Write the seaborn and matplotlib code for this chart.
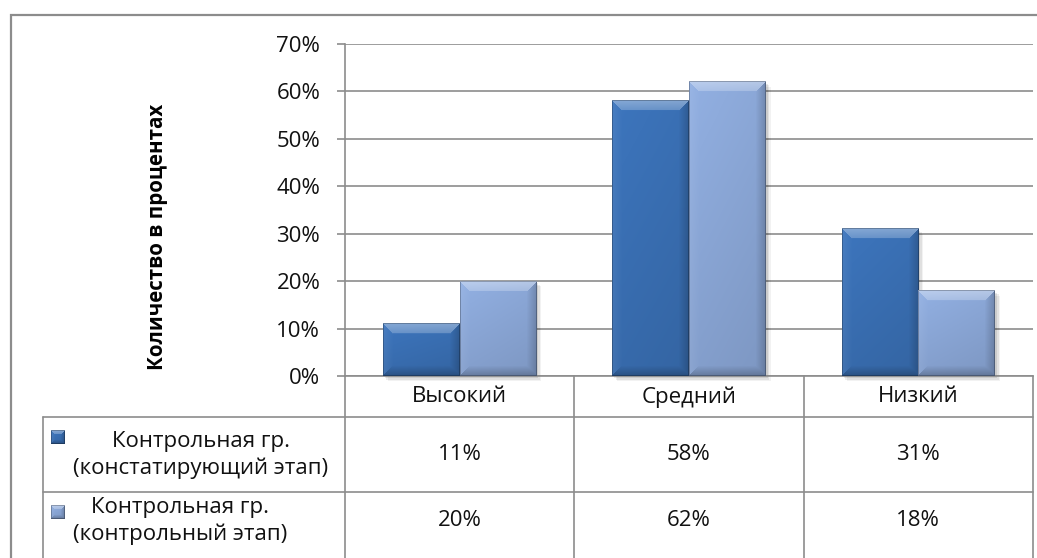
import numpy as np
import pandas as pd
import matplotlib
matplotlib.use("Agg")
import matplotlib.pyplot as plt
import seaborn as sns
from matplotlib.patches import Rectangle

# ---- data -------------------------------------------------------------
categories = ["Высокий", "Средний", "Низкий"]
series_names = ["Контрольная гр.\n(констатирующий этап)",
                "Контрольная гр.\n(контрольный этап)"]
stage_ascertaining = [11, 58, 31]   # %
stage_control = [20, 62, 18]        # %
y_ticks = [0, 10, 20, 30, 40, 50, 60, 70]
y_title = "Количество в процентах"

# ---- figure setup -----------------------------------------------------
W, H, DPI = 1037, 558, 100
sns.set_theme(style="white")
plt.rcParams["font.family"] = ["Open Sans", "DejaVu Sans"]
FS = 16
GRID = "#8c8c8c"
TXT = "#111111"
colors = ["#3b72b8", "#8eabdc"]

df = pd.DataFrame({
    "category": categories * 2,
    "series": [series_names[0]] * 3 + [series_names[1]] * 3,
    "value": stage_ascertaining + stage_control,
})

fig = plt.figure(figsize=(W / DPI, H / DPI), dpi=DPI)
fig.patch.set_facecolor("white")


def px_rect(l, t, r, b):
    return [l / W, 1 - b / H, (r - l) / W, (b - t) / H]


PL, PT, PR, PB = 345, 44, 1033, 376
ax = fig.add_axes(px_rect(PL, PT, PR, PB))
sns.barplot(data=df, x="category", y="value", hue="series",
            palette=colors, width=0.67, gap=0, saturation=1,
            legend=False, ax=ax, edgecolor="none", zorder=3)


def to_rgb(c):
    return np.array(matplotlib.colors.to_rgb(c))


def bevel(rgb, w, h, b=9):
    """Excel-like bevelled face for a bar of w x h pixels."""
    w, h = max(int(round(w)), 2), max(int(round(h)), 2)
    yy, xx = np.mgrid[0:h, 0:w].astype(float)
    t = yy / (h - 1)
    s = xx / (w - 1)
    img = rgb[None, None, :] * (1.03 - 0.10 * t)[..., None]
    img = img * (1.0 - 0.05 * s)[..., None]
    dt, db, dl, dr = yy, h - 1 - yy, xx, w - 1 - xx
    d = np.stack([dt, db, dl, dr])
    which = np.argmin(d, axis=0)
    m = d.min(axis=0)
    inside = m < b
    k = (1 - m / b)
    out = img.copy()
    top = inside & (which == 0)
    out[top] = img[top] + (1 - img[top]) * (0.22 + 0.15 * k[top])[:, None]
    left = inside & (which == 2)
    out[left] = img[left] + (1 - img[left]) * (0.06 * k[left])[:, None]
    right = inside & (which == 3)
    out[right] = img[right] * (1 - 0.18 * k[right])[:, None]
    bot = inside & (which == 1)
    out[bot] = img[bot] * (1 - 0.22 * k[bot])[:, None]
    # thin dark rim
    rim = m < 1
    out[rim] = out[rim] * 0.75
    return np.clip(out, 0, 1)


px_per_x = (PR - PL) / 3.0
px_per_y = (PB - PT) / 70.0

for i, p in enumerate(ax.patches):
    h = p.get_height()
    if h <= 0:
        continue
    x0, w = p.get_x(), p.get_width()
    base = to_rgb(p.get_facecolor()[:3])
    # soft drop shadow
    for off, a in [(5, 0.05), (3.5, 0.07), (2, 0.09)]:
        ax.add_patch(Rectangle((x0 + off / px_per_x, -off / px_per_y), w, h,
                               facecolor="black", alpha=a, edgecolor="none",
                               zorder=2, clip_on=False))
    img = bevel(base, w * px_per_x, h * px_per_y, b=10)
    ax.imshow(img, extent=[x0, x0 + w, 0, h], aspect="auto", zorder=4,
              interpolation="bilinear")

ax.set_xlim(-0.5, 2.5)
ax.set_ylim(0, 70)
ax.set_yticks(y_ticks)
ax.set_yticklabels([f"{v}%" for v in y_ticks], fontsize=FS, color=TXT)
ax.set_xticks([])
ax.set_xlabel("")
ax.set_ylabel("")
ax.yaxis.grid(True, color=GRID, linewidth=1.2)
ax.set_axisbelow(True)
ax.tick_params(axis="y", length=5.8, width=1.2, color=GRID, pad=12, left=True)
for side in ["top", "right"]:
    ax.spines[side].set_visible(False)
for side in ["left", "bottom"]:
    ax.spines[side].set_color(GRID)
    ax.spines[side].set_linewidth(1.2)
ax.patch.set_alpha(0)

# ---- overlay: frame, data table and axis title ------------------------
ov = fig.add_axes([0, 0, 1, 1], zorder=5)
ov.set_xlim(0, W)
ov.set_ylim(H, 0)
ov.axis("off")
ov.patch.set_alpha(0)

lw = 1.2
# outer chart frame
ov.plot([11, 11, W + 5], [H + 5, 15, 15], color=GRID, lw=1.6,
        solid_joinstyle="miter")

# data table grid
col_x = [PL, PL + px_per_x, PL + 2 * px_per_x, PR]
row_y = [PB, 417, 492, H + 5]
TL = 43
for x in col_x:
    ov.plot([x, x], [PB, H + 5], color=GRID, lw=lw)
ov.plot([TL, TL], [row_y[1], H + 5], color=GRID, lw=lw)
for y in row_y[1:3]:
    ov.plot([TL, PR], [y, y], color=GRID, lw=lw)

# header row
for j, cat in enumerate(categories):
    cx = (col_x[j] + col_x[j + 1]) / 2
    ov.text(cx, 397, cat, ha="center", va="center",
            fontsize=FS, color=TXT)

# body rows
row_centres = [455, 521]
for r, (name, vals) in enumerate(zip(series_names,
                                     [stage_ascertaining, stage_control])):
    cy = row_centres[r]
    for j, v in enumerate(vals):
        cx = (col_x[j] + col_x[j + 1]) / 2
        ov.text(cx, cy, f"{v}%", ha="center", va="center",
                fontsize=FS, color=TXT)
    ov.text(73, cy, name, ha="left", va="center", multialignment="center",
            fontsize=FS, color=TXT, linespacing=1.3)
    my = row_y[r + 1] + 20
    ov.imshow(bevel(to_rgb(colors[r]), 14, 14, b=4),
              extent=[51, 65, my + 7, my - 7], zorder=6,
              interpolation="bilinear")

ov.set_xlim(0, W)
ov.set_ylim(H, 0)

ov.text(157, 237, y_title, rotation=90, ha="center", va="center",
        fontsize=14.8, fontweight="bold", color="#000000")

fig.savefig("out.png", dpi=DPI, facecolor="white")
